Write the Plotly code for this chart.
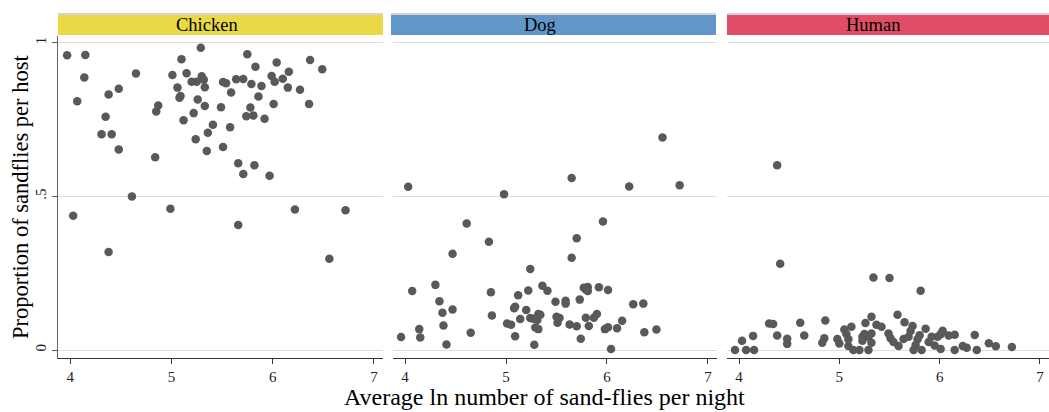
import plotly.graph_objects as go

# ---------------- data ----------------
chicken_x = [3.97, 4.15, 4.14, 4.07, 4.38, 4.48, 4.35, 4.31, 4.41, 4.48, 4.65, 4.87, 4.85, 4.84, 4.61,
             5.01, 5.10, 5.15, 5.06, 5.09, 5.08, 5.12, 5.29, 5.20, 5.25, 5.30, 5.32, 5.33, 5.26, 5.33,
             5.22, 5.24, 5.36, 5.41, 5.35, 5.51, 5.54, 5.59, 5.49, 5.58, 5.51, 5.64, 5.71, 5.75, 5.79,
             5.83, 5.89, 5.86, 5.78, 5.74, 5.81, 5.92, 5.66, 5.82, 5.71, 5.97, 6.04, 5.99, 6.02, 6.10,
             6.16, 6.15, 6.01, 6.27, 6.37, 6.49, 6.36, 4.03, 4.38, 4.99, 5.66, 6.22, 6.56, 6.72]
chicken_y = [0.959, 0.960, 0.887, 0.810, 0.832, 0.850, 0.759, 0.702, 0.702, 0.653, 0.900, 0.796, 0.776, 0.627, 0.500,
             0.895, 0.946, 0.901, 0.854, 0.827, 0.821, 0.748, 0.984, 0.873, 0.873, 0.891, 0.880, 0.855, 0.815, 0.794,
             0.771, 0.686, 0.707, 0.733, 0.648, 0.872, 0.868, 0.838, 0.790, 0.725, 0.661, 0.881, 0.882, 0.963, 0.866,
             0.922, 0.859, 0.825, 0.789, 0.761, 0.763, 0.753, 0.608, 0.601, 0.573, 0.567, 0.936, 0.892, 0.873, 0.883,
             0.906, 0.854, 0.801, 0.847, 0.944, 0.914, 0.801, 0.437, 0.319, 0.460, 0.407, 0.457, 0.297, 0.455]

dog_x = [4.03, 4.98, 5.65, 6.22, 6.72, 6.55, 4.61, 4.83, 4.47, 5.96, 5.70, 5.65, 5.24, 4.07, 4.30, 4.34,
         4.37, 4.47, 4.38, 4.14, 4.15, 3.96, 4.41, 4.65, 4.85, 4.86, 5.12, 5.22, 5.36, 5.41, 5.08, 5.09,
         5.20, 5.01, 5.05, 5.14, 5.09, 5.24, 5.27, 5.32, 5.34, 5.31, 5.29, 5.32, 5.28, 5.49, 5.59, 5.59,
         5.50, 5.53, 5.51, 5.63, 5.70, 5.74, 5.73, 5.77, 5.81, 5.81, 5.79, 5.92, 6.01, 5.79, 5.87, 5.90,
         5.82, 5.98, 6.01, 6.10, 6.15, 6.04, 6.26, 6.36, 6.37, 6.49]
dog_y = [0.531, 0.507, 0.560, 0.532, 0.536, 0.692, 0.412, 0.352, 0.313, 0.418, 0.364, 0.300, 0.264, 0.192, 0.212, 0.159,
         0.121, 0.132, 0.080, 0.068, 0.041, 0.042, 0.018, 0.056, 0.188, 0.112, 0.178, 0.194, 0.209, 0.193, 0.136, 0.141,
         0.130, 0.086, 0.082, 0.101, 0.045, 0.104, 0.102, 0.117, 0.115, 0.098, 0.073, 0.068, 0.017, 0.157, 0.160, 0.151,
         0.108, 0.104, 0.089, 0.083, 0.077, 0.037, 0.164, 0.203, 0.205, 0.192, 0.197, 0.204, 0.195, 0.105, 0.105, 0.117,
         0.078, 0.068, 0.074, 0.071, 0.095, 0.003, 0.149, 0.151, 0.058, 0.067]

human_x = [4.38, 4.41, 5.34, 5.50, 5.81, 5.58, 5.32, 4.86, 4.61, 4.30, 4.34, 5.26, 5.37, 5.42, 5.65, 5.73,
           5.12, 5.05, 5.86, 6.03, 6.35, 4.14, 4.03, 4.38, 4.48, 4.48, 4.65, 4.85, 4.83, 4.98, 5.00, 5.07,
           5.09, 5.09, 5.14, 5.20, 5.29, 5.23, 5.25, 5.23, 5.29, 5.32, 5.32, 5.49, 5.51, 5.54, 5.59, 5.64,
           5.69, 5.71, 5.74, 5.82, 5.78, 5.76, 5.80, 5.89, 5.92, 5.95, 6.01, 5.98, 6.01, 6.09, 6.15, 6.15,
           6.23, 6.27, 6.37, 6.49, 6.56, 6.72, 3.96, 4.07, 4.15]
human_y = [0.601, 0.281, 0.236, 0.234, 0.193, 0.115, 0.108, 0.096, 0.089, 0.086, 0.085, 0.088, 0.082, 0.076, 0.090, 0.078,
           0.076, 0.067, 0.069, 0.063, 0.049, 0.046, 0.030, 0.047, 0.037, 0.020, 0.047, 0.038, 0.024, 0.036, 0.021, 0.052,
           0.035, 0.013, 0.000, 0.000, 0.000, 0.043, 0.052, 0.030, 0.043, 0.054, 0.024, 0.054, 0.038, 0.026, 0.013, 0.036,
           0.043, 0.062, 0.000, 0.000, 0.035, 0.016, 0.048, 0.026, 0.043, 0.015, 0.003, 0.043, 0.051, 0.047, 0.050, 0.000,
           0.013, 0.007, 0.000, 0.022, 0.012, 0.010, 0.000, 0.000, 0.000]

panels = ["Chicken", "Dog", "Human"]
strip_colors = ["#EAD944", "#6096C8", "#E24D66"]
x_ticks = [4, 5, 6, 7]
y_ticks = [0, 0.5, 1]
y_ticklabels = ["0", ".5", "1"]

# ---------------- layout helpers ----------------
W, H = 1049, 412
ML, MR, MT, MB = 58, 0, 36, 54
PW = W - ML - MR
PH = H - MT - MB

def px2x(p):
    return (p - ML) / PW

def px2y(p):
    return (H - MB - p) / PH

panel_px = [(58, 383), (393, 717), (727, 1049)]
strip_px = [(58, 383), (391, 716), (727, 1049)]
label_cx = [207, 540, 873]

FONT = "Liberation Serif, Times New Roman, serif"
MARK = "#595959"

fig = go.Figure()
data = [(chicken_x, chicken_y), (dog_x, dog_y), (human_x, human_y)]
for i, (xs, ys) in enumerate(data):
    sfx = "" if i == 0 else str(i + 1)
    fig.add_trace(go.Scatter(
        x=xs, y=ys, mode="markers",
        marker=dict(color=MARK, size=8.5, line=dict(width=0)),
        xaxis="x" + sfx, yaxis="y" + sfx, showlegend=False, hoverinfo="x+y"))

layout = dict(
    width=W, height=H,
    margin=dict(l=ML, r=MR, t=MT, b=MB, pad=0),
    paper_bgcolor="white", plot_bgcolor="white",
    font=dict(family=FONT, color="black", size=15),
    showlegend=False,
)

for i in range(3):
    sfx = "" if i == 0 else str(i + 1)
    d0, d1 = panel_px[i]
    layout["xaxis" + sfx] = dict(
        domain=[px2x(d0), min(px2x(d1), 1.0)],
        range=[3.88, 7.09], anchor="y" + sfx,
        tickvals=x_ticks, ticktext=[str(t) for t in x_ticks],
        ticks="outside", ticklen=5, tickwidth=1, tickcolor="#333333",
        showline=True, linecolor="#333333", linewidth=1.3,
        showgrid=False, zeroline=False,
        tickfont=dict(family=FONT, size=15, color="#222222"),
    )
    yax = dict(
        domain=[0, 1], range=[-0.026, 1.022], anchor="x" + sfx,
        tickvals=y_ticks, showgrid=True, gridcolor="#DEDEDE", gridwidth=1,
        zeroline=False,
    )
    if i == 0:
        yax.update(
            ticktext=y_ticklabels, ticks="outside", ticklen=5, tickwidth=1,
            tickcolor="#555555", showline=True, linecolor="#666666", linewidth=1.3,
            tickangle=-90, tickfont=dict(family=FONT, size=15, color="#222222"),
        )
    else:
        yax.update(showticklabels=False, ticks="", showline=False, matches="y")
    layout["yaxis" + sfx] = yax

fig.update_layout(**layout)

# strips
for i, name in enumerate(panels):
    s0, s1 = strip_px[i]
    x0, x1 = px2x(s0), min(px2x(s1), 1.0)
    fig.add_shape(type="rect", xref="paper", yref="paper",
                  x0=x0, x1=x1, y0=px2y(35), y1=px2y(13),
                  fillcolor="#D3D3D3", line=dict(width=0), layer="above")
    fig.add_shape(type="rect", xref="paper", yref="paper",
                  x0=x0, x1=x1, y0=px2y(35), y1=px2y(15),
                  fillcolor=strip_colors[i], line=dict(width=0), layer="above")
    fig.add_annotation(text=name, xref="paper", yref="paper",
                       x=px2x(label_cx[i]), y=px2y(25), xanchor="center", yanchor="middle",
                       showarrow=False, font=dict(family=FONT, size=18.5, color="black"))

# axis titles
fig.add_annotation(text="Proportion of sandflies per host", xref="paper", yref="paper",
                   x=px2x(20), y=px2y(197), xanchor="center", yanchor="middle",
                   textangle=-90, showarrow=False,
                   font=dict(family=FONT, size=22.5, color="black"))
fig.add_annotation(text="Average ln number of sand-flies per night", xref="paper", yref="paper",
                   x=px2x(544), y=px2y(397), xanchor="center", yanchor="middle",
                   showarrow=False, font=dict(family=FONT, size=24, color="black"))

fig.write_html("out.html")
